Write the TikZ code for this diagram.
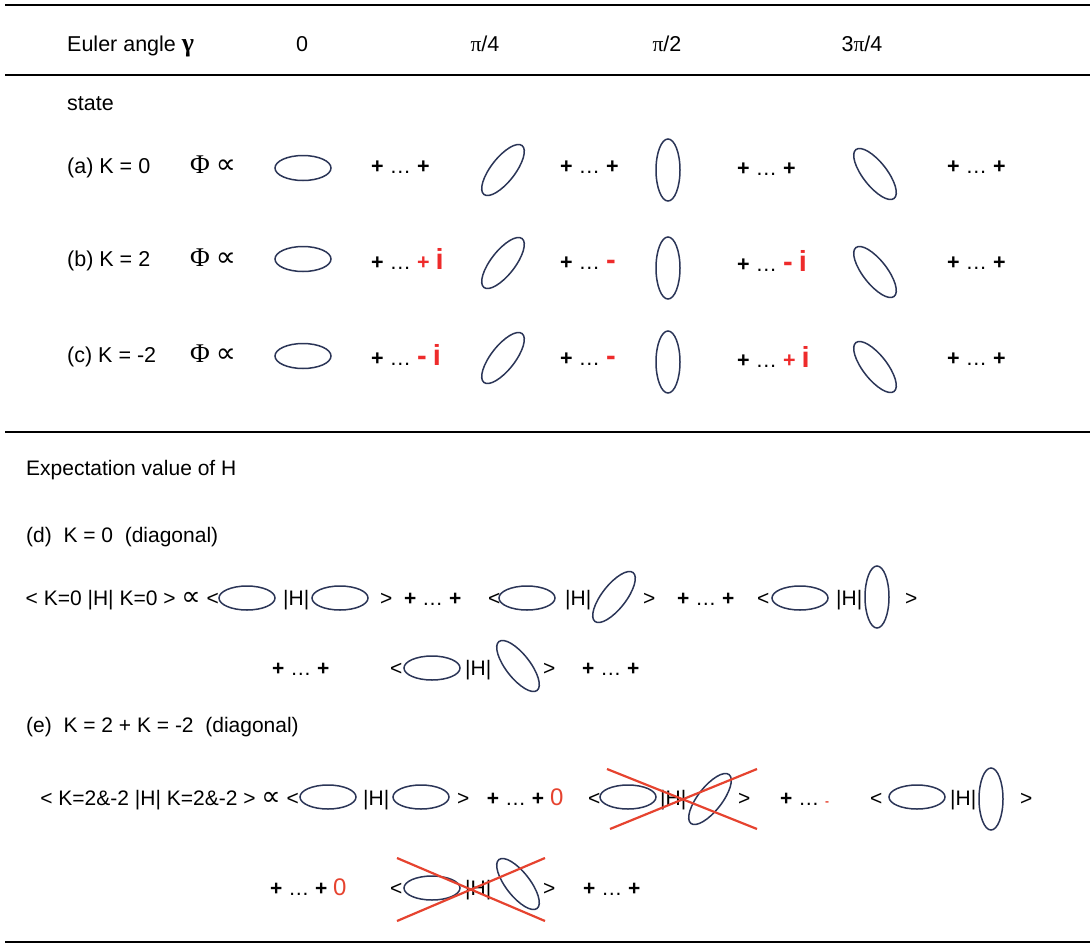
\documentclass[tikz,border=0pt]{standalone}
\usepackage{fontspec}
\setmainfont{Liberation Sans}
\newfontfamily\grk{Liberation Serif}
\newfontfamily\sym{DejaVu Sans}
\usetikzlibrary{shapes.geometric,positioning}

\definecolor{orbblue}{HTML}{2B3557}
\definecolor{phred}{HTML}{EE2B2B}
\definecolor{zred}{HTML}{E6432F}

\newcommand{\pdp}{{\bfseries +} … {\bfseries +}}
\newcommand{\pd}{{\bfseries +} … }
\newcommand{\ri}{{\color{phred}\fontsize{29}{29}\selectfont\bfseries i}}
\newcommand{\rpl}{{\color{phred}\bfseries +}}
\newcommand{\rmi}{{\color{phred}\fontsize{29}{29}\selectfont\bfseries -}}
\newcommand{\prop}{{\sym\fontsize{27}{27}\selectfont ∝}}
\newcommand{\phiprop}{{\grk\fontsize{27}{27}\selectfont Φ} {\sym\fontsize{28}{28}\selectfont ∝}}

\tikzset{
 txt/.style={anchor=base west,inner sep=0pt,font=\fontsize{21.5}{25}\selectfont},
 mid/.style={anchor=base,inner sep=0pt,font=\fontsize{21.5}{25}\selectfont},
 sml/.style={anchor=base west,inner sep=0pt,font=\fontsize{21}{24}\selectfont},
 flat/.style={ellipse,draw=orbblue,line width=1.5pt,inner sep=0pt,minimum width=56pt,minimum height=25pt},
 tilt/.style={ellipse,draw=orbblue,line width=1.5pt,inner sep=0pt,minimum width=62pt,minimum height=24pt,rotate=#1},
 rule/.style={line width=1.8pt},
 cross/.style={draw=zred,line width=2.2pt}
}

\begin{document}
\begin{tikzpicture}[x=1pt,y=-1pt]
 \fill[white] (0,0) rectangle (1090,946);
 \useasboundingbox (0,0) rectangle (1090,946);

 % rules
 \draw[rule] (5,5) -- (1090,5);
 \draw[rule] (5,75) -- (1090,75);
 \draw[rule] (5,432) -- (1090,432);
 \draw[rule] (5,942) -- (1090,942);

 % header
 \node[txt] (euler) at (67,51) {Euler angle {\grk\bfseries\fontsize{26}{26}\selectfont γ}};
 \node[mid] (g0) at (302,51) {0};
 \node[mid] (g1) at (485,51) {{\grk π}/4};
 \node[mid] (g2) at (667,51) {{\grk π}/2};
 \node[mid] (g3) at (862,51) {3{\grk π}/4};

 \node[txt] (state) at (67,110) {state};

 % (a)
 \node[txt] (la) at (67,173) {(a) K = 0};
 \node[txt] (pa) at (190,173) {\phiprop};
 \node[flat] (a0) at (303,168) {};
 \node[txt] (sa1) at (371,173) {\pdp};
 \node[tilt=52] (a1) at (503,170) {};
 \node[txt] (sa2) at (560,173) {\pdp};
 \node[tilt=90] (a2) at (668,170) {};
 \node[txt] (sa3) at (737,175) {\pdp};
 \node[tilt=-52] (a3) at (875,174) {};
 \node[txt] (sa4) at (947,173) {\pdp};

 % (b)
 \node[txt] (lb) at (67,266) {(b) K = 2};
 \node[txt] (pb) at (190,266) {\phiprop};
 \node[flat] (b0) at (303,259) {};
 \node[txt] (sb1) at (371,269) {\pd\rpl\ \ri};
 \node[tilt=52] (b1) at (503,263) {};
 \node[txt] (sb2) at (560,269) {\pd\rmi};
 \node[tilt=90] (b2) at (668,268) {};
 \node[txt] (sb3) at (737,271) {\pd\rmi\ \ri};
 \node[tilt=-52] (b3) at (875,272) {};
 \node[txt] (sb4) at (947,269) {\pdp};

 % (c)
 \node[txt] (lc) at (67,362) {(c) K = -2};
 \node[txt] (pc) at (190,362) {\phiprop};
 \node[flat] (c0) at (303,356) {};
 \node[txt] (sc1) at (371,365) {\pd\rmi\ \ri};
 \node[tilt=52] (c1) at (503,358) {};
 \node[txt] (sc2) at (560,365) {\pd\rmi};
 \node[tilt=90] (c2) at (668,362) {};
 \node[txt] (sc3) at (737,367) {\pd\rpl\ \ri};
 \node[tilt=-52] (c3) at (875,367) {};
 \node[txt] (sc4) at (947,365) {\pdp};

 % expectation values
 \node[sml] (expv) at (26,475) {Expectation value of H};
 \node[sml] (ld) at (26,542) {(d)\ \ K = 0\ \ (diagonal)};

 \node[sml,anchor=base east] (d1t) at (219,605) {< K=0 |H| K=0 > \prop\ <};
 \node[flat,minimum height=24pt] (d11) at (247,598) {};
 \node[sml] (d1h) at (283,605) {|H|};
 \node[flat,minimum height=24pt] (d12) at (340,598) {};
 \node[sml] (d1k) at (380,605) {>\ \ \pdp};
 \node[sml] (d2b) at (488,605) {<};
 \node[flat,minimum height=24pt] (d21) at (527,598) {};
 \node[sml] (d2h) at (565,605) {|H|};
 \node[tilt=52] (d22) at (614,597) {};
 \node[sml] (d2k) at (643,605) {>};
 \node[sml] (sd1) at (677,605) {\pdp};
 \node[sml] (d3b) at (757,605) {<};
 \node[flat,minimum height=24pt] (d31) at (800,598) {};
 \node[sml] (d3h) at (836,605) {|H|};
 \node[tilt=90] (d32) at (877,597) {};
 \node[sml] (d3k) at (905,605) {>};

 \node[sml] (sd2) at (272,675) {\pdp};
 \node[sml] (d4b) at (390,675) {<};
 \node[flat,minimum height=24pt] (d41) at (432,668) {};
 \node[sml] (d4h) at (465,675) {|H|};
 \node[tilt=-52] (d42) at (518,666) {};
 \node[sml] (d4k) at (543,675) {>};
 \node[sml] (sd3) at (582,675) {\pdp};

 \node[sml] (le) at (26,732) {(e)\ \ K = 2 + K = -2\ \ (diagonal)};

 \node[sml,anchor=base east] (e1t) at (299,805) {< K=2\&-2 |H| K=2\&-2 > \prop\ <};
 \node[flat,minimum height=24pt] (e11) at (328,797) {};
 \node[sml] (e1h) at (363,805) {|H|};
 \node[flat,minimum height=24pt] (e12) at (421,797) {};
 \node[sml] (e1k) at (457,805) {>\ \ \ \pdp\ {\color{zred}\fontsize{24}{24}\selectfont 0}};
 \node[sml] (e2b) at (588,805) {<};
 \node[flat,minimum height=24pt] (e21) at (628,797) {};
 \node[sml] (e2h) at (660,805) {|H|};
 \node[tilt=52] (e22) at (710,799) {};
 \node[sml] (e2k) at (738,805) {>};
 \node[sml] (se1) at (780,805) {\pd{\color{zred}\fontsize{12}{12}\selectfont\bfseries -}};
 \node[sml] (e3b) at (870,805) {<};
 \node[flat,minimum height=24pt] (e31) at (917,797) {};
 \node[sml] (e3h) at (950,805) {|H|};
 \node[tilt=90] (e32) at (991,799) {};
 \node[sml] (e3k) at (1020,805) {>};

 \node[sml] (se2) at (270,895) {\pdp\ {\color{zred}\fontsize{24}{24}\selectfont 0}};
 \node[sml] (e4b) at (390,895) {<};
 \node[flat,minimum height=24pt] (e41) at (432,888) {};
 \node[sml] (e4h) at (465,895) {|H|};
 \node[tilt=-52] (e42) at (518,884) {};
 \node[sml] (e4k) at (543,895) {>};
 \node[sml] (se3) at (583,895) {\pdp};

 % crossed out terms
 \coordinate (x1nw) at (607,769);
 \coordinate (x1se) at (757,829);
 \coordinate (x1sw) at (610,829);
 \coordinate (x1ne) at (757,769);
 \draw[cross] (x1nw) -- (x1se);
 \draw[cross] (x1sw) -- (x1ne);
 \coordinate (x2nw) at (397,858);
 \coordinate (x2se) at (545,921);
 \coordinate (x2sw) at (397,921);
 \coordinate (x2ne) at (545,858);
 \draw[cross] (x2nw) -- (x2se);
 \draw[cross] (x2sw) -- (x2ne);
\end{tikzpicture}
\end{document}
